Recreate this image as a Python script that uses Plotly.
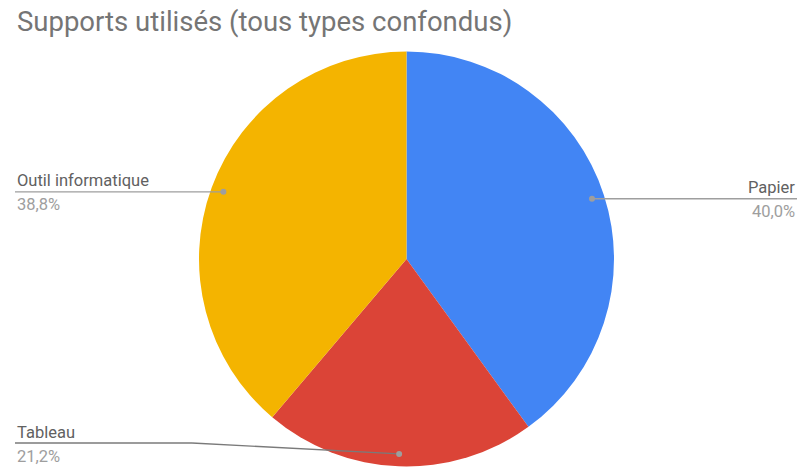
import math
import plotly.graph_objects as go

# ---- data ----
categories = ["Papier", "Tableau", "Outil informatique"]
values = [40.0, 21.2, 38.8]
pct_labels = ["40,0%", "21,2%", "38,8%"]
colors = ["#4285F4", "#DB4437", "#F4B400"]
title_text = "Supports utilisés (tous types confondus)"

# ---- layout constants (pixels) ----
W, H = 799, 467
CX, CY, R = 406.5, 259.0, 207.5
DOT_K = 0.94
# label side and line height for each slice
label_side = ["right", "left", "left"]
label_line_y = [None, 443, None]  # None -> same as dot y
ELBOW_X = 192
LEFT_X, RIGHT_X = 15, 797

def px(x):
    return x / W

def py(y):
    return 1 - y / H

fig = go.Figure(go.Pie(
    labels=categories,
    values=values,
    marker=dict(colors=colors, line=dict(width=0)),
    sort=False,
    direction="clockwise",
    rotation=0,
    textinfo="none",
    hoverinfo="label+percent",
    showlegend=False,
    domain=dict(x=[px(CX - R), px(CX + R)], y=[py(CY + R), py(CY - R)]),
))

shapes = []
annotations = []
total = sum(values)
cum = 0.0
LINE_COLOR = "#9E9E9E"
for i, v in enumerate(values):
    mid = (cum + v / 2) / total
    cum += v
    ang = 2 * math.pi * mid
    dx = CX + R * DOT_K * math.sin(ang)
    dy = CY - R * DOT_K * math.cos(ang)
    ly = label_line_y[i] if label_line_y[i] is not None else dy
    side = label_side[i]
    if side == "right":
        shapes.append(dict(type="line", xref="paper", yref="paper",
                           x0=px(dx), y0=py(dy), x1=px(RIGHT_X), y1=py(ly),
                           line=dict(color=LINE_COLOR, width=1.3)))
        tx, anchor = RIGHT_X, "right"
    else:
        if abs(ly - dy) > 1:
            shapes.append(dict(type="line", xref="paper", yref="paper",
                               x0=px(LEFT_X), y0=py(ly), x1=px(ELBOW_X), y1=py(ly),
                               line=dict(color="#7A7A7A", width=1.3)))
            shapes.append(dict(type="line", xref="paper", yref="paper",
                               x0=px(ELBOW_X), y0=py(ly), x1=px(dx), y1=py(dy),
                               line=dict(color="#7A7A7A", width=1.3)))
        else:
            shapes.append(dict(type="line", xref="paper", yref="paper",
                               x0=px(LEFT_X), y0=py(ly), x1=px(dx), y1=py(dy),
                               line=dict(color=LINE_COLOR, width=1.3)))
        tx, anchor = LEFT_X, "left"
    rr = 3
    shapes.append(dict(type="circle", xref="paper", yref="paper",
                       x0=px(dx - rr), x1=px(dx + rr), y0=py(dy + rr), y1=py(dy - rr),
                       fillcolor="#9E9E9E", line=dict(width=0)))
    annotations.append(dict(x=px(tx), y=py(ly - 11), xref="paper", yref="paper",
                            text=categories[i], showarrow=False, xanchor=anchor,
                            yanchor="middle",
                            font=dict(family="Roboto", size=16.5, color="#616161")))
    annotations.append(dict(x=px(tx), y=py(ly + 13), xref="paper", yref="paper",
                            text=pct_labels[i], showarrow=False, xanchor=anchor,
                            yanchor="middle",
                            font=dict(family="Roboto", size=16.5, color="#9E9E9E")))

annotations.append(dict(x=px(15), y=py(21), xref="paper", yref="paper",
                        text=title_text, showarrow=False, xanchor="left",
                        yanchor="middle",
                        font=dict(family="Roboto", size=27.5, color="#757575")))

fig.update_layout(
    width=W, height=H,
    margin=dict(l=0, r=0, t=0, b=0),
    paper_bgcolor="white",
    plot_bgcolor="white",
    shapes=shapes,
    annotations=annotations,
)

fig.write_html(
    "out.html",
    config={"displayModeBar": False},
    post_script="document.body.style.margin='0';document.body.style.padding='0';document.body.style.overflow='hidden';",
)
